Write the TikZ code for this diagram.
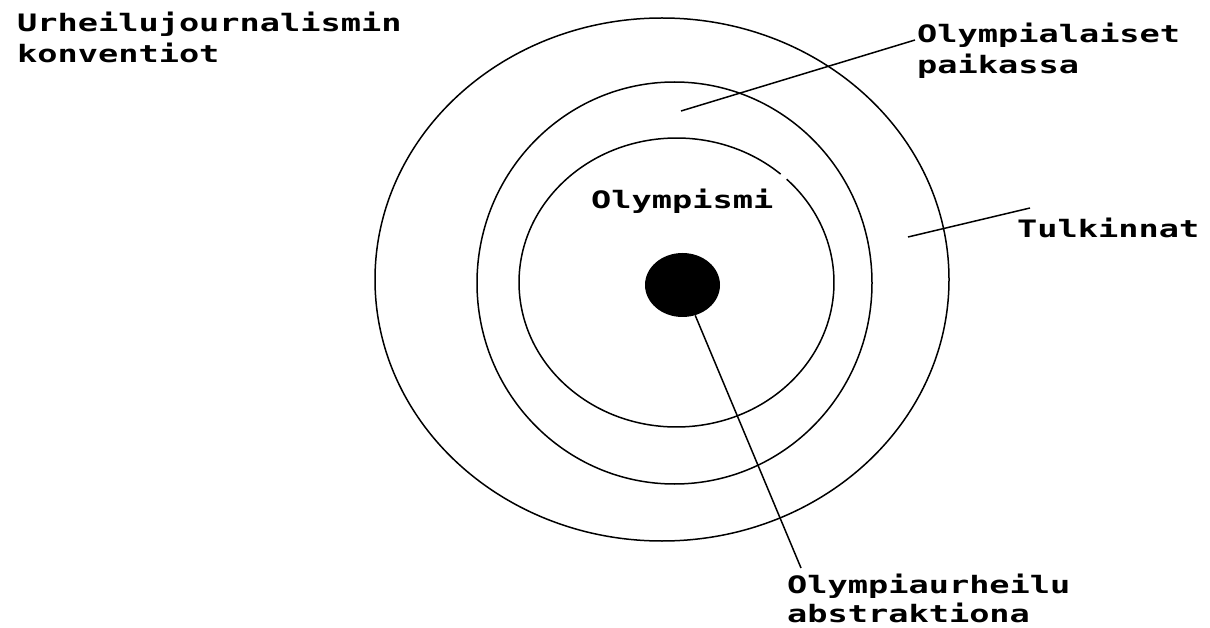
\documentclass[tikz,border=0pt]{standalone}
\usepackage{fontspec}
\newfontfamily\labfont{DejaVu Sans Mono}[FakeStretch=1.4]
\usetikzlibrary{shapes.geometric,calc}
\begin{document}
\begin{tikzpicture}[x=1pt,y=1pt,
  ring/.style={draw, ellipse, line width=1.5pt, inner sep=0pt},
  lab/.style={anchor=base west, inner sep=0pt, font=\labfont\bfseries\fontsize{24}{30}\selectfont},
  conn/.style={line width=1.5pt}]
\useasboundingbox (0,0) rectangle (1210,-628);
\fill[white] (0,0) rectangle (1210,-628);
% rings
\node[ring, minimum width=574pt, minimum height=523pt] (outer) at (662,-279.5) {};
\node[ring, minimum width=395pt, minimum height=402pt] (middle) at (674.5,-283) {};
\coordinate (ic) at (676.5,-282.5);
\draw[conn] ($(ic)+(48.6:157.5 and 144.5)$) arc[start angle=48.6, end angle=405.6, x radius=157.5, y radius=144.5];
% centre dot
\node[fill=black, ellipse, minimum width=75pt, minimum height=64pt, inner sep=0pt] (dot) at (682.5,-285) {};
% labels
\node[lab] (uj1) at (17,-32) {Urheilujournalismin};
\node[lab] (uj2) at (17,-63) {konventiot};
\node[lab] (op1) at (917,-43) {Olympialaiset};
\node[lab] (op2) at (917,-74) {paikassa};
\node[lab] (tk) at (1017,-238) {Tulkinnat};
\node[lab] (om) at (591,-209) {Olympismi};
\node[lab] (ou1) at (787,-593) {Olympiaurheilu};
\node[lab] (ou2) at (787,-622) {abstraktiona};
% connectors
\coordinate (a1) at (681,-111);
\coordinate (a2) at (915,-40);
\draw[conn] (a1) -- (a2);
\coordinate (b1) at (908,-237);
\coordinate (b2) at (1030,-208);
\draw[conn] (b1) -- (b2);
\coordinate (c2) at (801,-568);
\draw[conn] (dot) -- (c2);
\end{tikzpicture}
\end{document}
